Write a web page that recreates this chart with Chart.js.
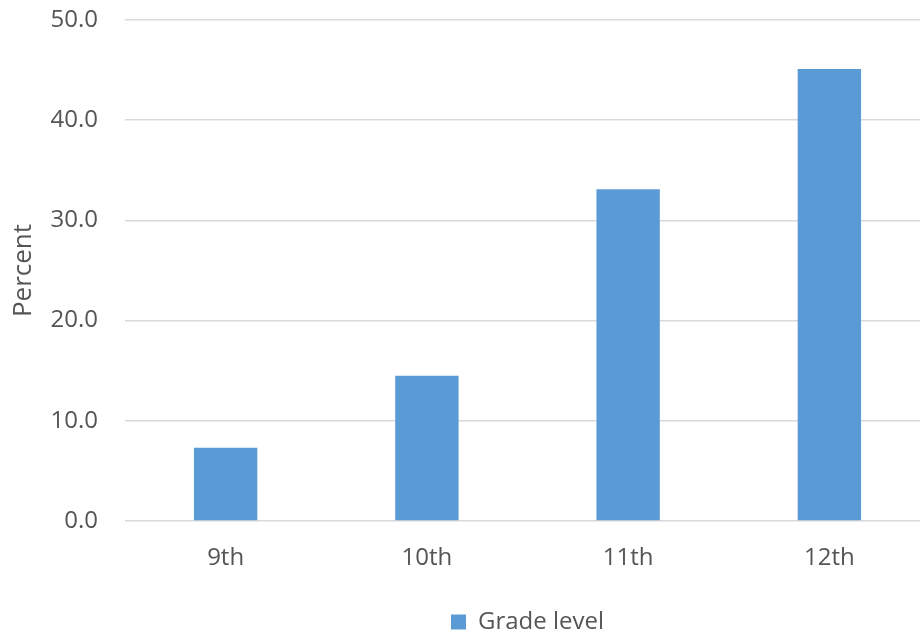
<!DOCTYPE html>
<html>
<head>
<meta charset="utf-8">
<script src="https://cdn.jsdelivr.net/npm/chart.js@4"></script>
<style>
  html, body { margin: 0; padding: 0; background: #fff; overflow: hidden; }
  #wrap { width: 920px; height: 634px; overflow: hidden; }
  #box { width: 930px; height: 634px; }
</style>
</head>
<body>
<div id="wrap"><div id="box"><canvas id="gradeChart"></canvas></div></div>
<script>
// data
const grades = ["9th", "10th", "11th", "12th"];
const gradePercent = [7.3, 14.5, 33.1, 45.1];
const seriesName = "Grade level";
const yTicks = [0, 10, 20, 30, 40, 50];

const textGrey = "#555555";
const fontFamily = "'Open Sans', sans-serif";

document.addEventListener("DOMContentLoaded", function () {
  const ctx = document.getElementById("gradeChart");

  new Chart(ctx, {
    type: "bar",
    data: {
      labels: grades,
      datasets: [{
        label: seriesName,
        data: gradePercent,
        backgroundColor: "#5b9bd5",
        borderWidth: 0,
        categoryPercentage: 1,
        barPercentage: 0.315
      }]
    },
    options: {
      responsive: true,
      maintainAspectRatio: false,
      animation: false,
      layout: { padding: { top: 20, left: 0, right: 0, bottom: -10 } },
      plugins: {
        tooltip: { enabled: false },
        legend: {
          position: "bottom",
          fullSize: false,
          labels: {
            color: textGrey,
            font: { family: fontFamily, size: 24 },
            boxWidth: 15,
            boxHeight: 15,
            padding: 0
          }
        }
      },
      scales: {
        x: {
          grid: { display: false },
          border: { display: false },
          ticks: {
            color: textGrey,
            font: { family: fontFamily, size: 24 },
            padding: 15
          },
          afterFit: function (scale) {
            scale.height = 89;
            scale.paddingTop = 0;
            scale.paddingBottom = 0;
          }
        },
        y: {
          min: 0,
          max: 50,
          afterBuildTicks: function (scale) {
            scale.ticks = yTicks.map(v => ({ value: v }));
          },
          grid: { color: "#d9d9d9", lineWidth: 1.5, drawTicks: false },
          border: { display: false },
          ticks: {
            color: textGrey,
            font: { family: fontFamily, size: 24 },
            padding: 27,
            callback: v => v.toFixed(1)
          },
          title: {
            display: true,
            text: "Percent",
            color: textGrey,
            font: { family: fontFamily, size: 26 },
            padding: { top: 8, bottom: 0 }
          },
          afterFit: function (scale) {
            scale.width = 125;
            scale.paddingTop = 0;
            scale.paddingBottom = 0;
          }
        }
      }
    }
  });
});
</script>
</body>
</html>
